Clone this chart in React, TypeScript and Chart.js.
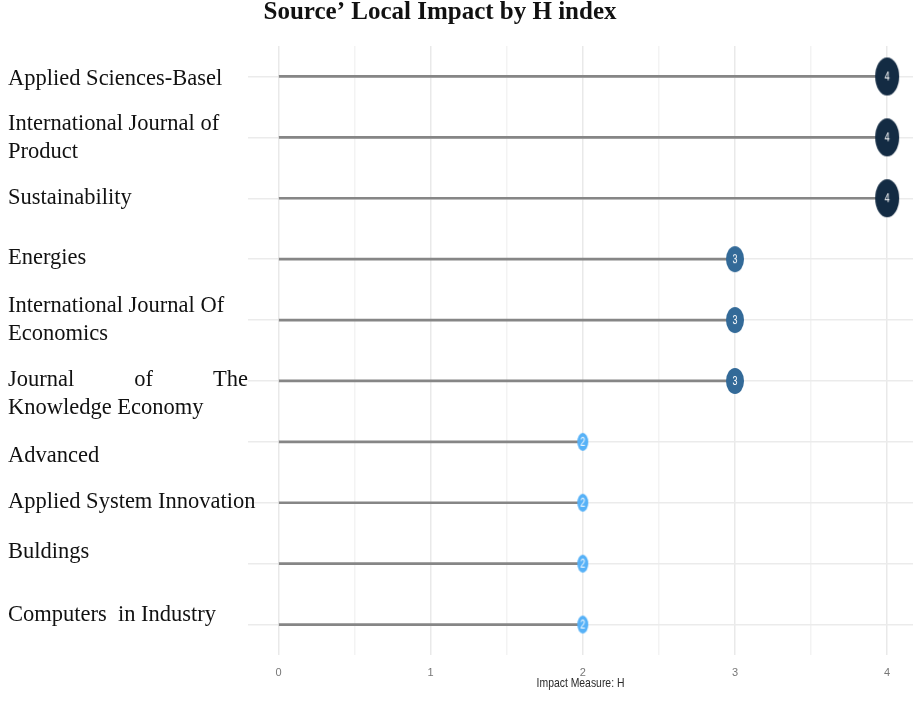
import React, { useEffect, useRef } from 'react';
import { Chart, registerables } from 'chart.js';

Chart.register(...registerables);

// ---- data ----
const SOURCES: string[][] = [
  ['Applied Sciences-Basel'],
  ['International Journal of', 'Product'],
  ['Sustainability'],
  ['Energies'],
  ['International Journal Of', 'Economics'],
  ['Journal of The', 'Knowledge Economy'],
  ['Advanced'],
  ['Applied System Innovation'],
  ['Buldings'],
  ['Computers  in Industry'],
];
const H_INDEX = [4, 4, 4, 3, 3, 3, 2, 2, 2, 2];
const X_TICKS = [0, 1, 2, 3, 4];
const TITLE = 'Source\u2019 Local Impact by H index';
const X_TITLE = 'Impact Measure: H';

// ---- styles ----
const W = 913;
const H = 701;
const DOT_COLOR: Record<number, string> = { 2: '#56B1F7', 3: '#336A98', 4: '#132B43' };
const DOT_RX: Record<number, number> = { 2: 5.5, 3: 9, 4: 12 };
const DOT_RY: Record<number, number> = { 2: 9, 3: 13, 4: 19 };
const LABEL_DY = [3, 1, 0, -1, 0, 13, 14, -1, -12, -9];
const LABEL_LINE_H = 28;
const LABEL_FONT = '22.5px "Liberation Serif"';
const LABEL_LEFT = 8;
const LABEL_WIDTH = 240;
const JUSTIFIED = new Set(['Journal of The']);

function makeDot(v: number): HTMLCanvasElement {
  const ry = DOT_RY[v] ?? 10;
  const rx = DOT_RX[v] ?? 7;
  const c = document.createElement('canvas');
  c.width = Math.ceil(rx * 2) + 2;
  c.height = Math.ceil(ry * 2) + 2;
  const ctx = c.getContext('2d')!;
  ctx.fillStyle = DOT_COLOR[v] ?? '#336A98';
  ctx.beginPath();
  ctx.ellipse(c.width / 2, c.height / 2, rx, ry, 0, 0, Math.PI * 2);
  ctx.fill();
  ctx.save();
  ctx.translate(c.width / 2, c.height / 2);
  ctx.scale(1, 1.35);
  ctx.fillStyle = '#ffffff';
  ctx.font = '9px "Liberation Sans"';
  ctx.textAlign = 'center';
  ctx.textBaseline = 'middle';
  ctx.fillText(String(v), 0, 0.5);
  ctx.restore();
  return c;
}

const textPlugin = {
  id: 'customText',
  afterDraw(chart: any) {
    const ctx = chart.ctx;
    const yScale = chart.scales.y;
    const area = chart.chartArea;
    ctx.save();
    // chart title
    ctx.font = 'bold 25px "Liberation Serif"';
    ctx.fillStyle = '#111';
    ctx.textAlign = 'center';
    ctx.textBaseline = 'middle';
    ctx.fillText(TITLE, 440, 13);

    // x axis title (condensed sans)
    ctx.save();
    ctx.translate((area.left + area.right) / 2, 683);
    ctx.scale(0.8, 1);
    ctx.font = '13px "Liberation Sans"';
    ctx.fillStyle = '#2a2a2a';
    ctx.fillText(X_TITLE, 0, 0);
    ctx.restore();

    // category labels
    ctx.font = LABEL_FONT;
    ctx.fillStyle = '#111';
    ctx.textBaseline = 'middle';
    ctx.textAlign = 'left';
    SOURCES.forEach((lines, i) => {
      const cy = yScale.getPixelForTick(i) + (LABEL_DY[i] ?? 0);
      const y0 = cy - ((lines.length - 1) * LABEL_LINE_H) / 2;
      lines.forEach((line, k) => {
        const y = y0 + k * LABEL_LINE_H;
        if (JUSTIFIED.has(line)) {
          const words = line.split(' ');
          const widths = words.map((w) => ctx.measureText(w).width);
          const total = widths.reduce((a, b) => a + b, 0);
          const gap = (LABEL_WIDTH - total) / (words.length - 1);
          let x = LABEL_LEFT;
          words.forEach((w, j) => {
            ctx.fillText(w, x, y);
            x += widths[j] + gap;
          });
        } else {
          ctx.fillText(line, LABEL_LEFT, y);
        }
      });
    });
    ctx.restore();
  },
};

export default function App() {
  const ref = useRef<HTMLCanvasElement | null>(null);

  useEffect(() => {
    if (!ref.current) return;
    const dots = H_INDEX.map((v) => makeDot(v));
    const chart = new Chart(ref.current, {
      type: 'bar',
      data: {
        labels: SOURCES.map((l) => l.join(' ')),
        datasets: [
          {
            type: 'bar',
            indexAxis: 'y',
            data: H_INDEX,
            backgroundColor: '#868686',
            barThickness: 2,
            order: 2,
          } as any,
          {
            type: 'line',
            indexAxis: 'y',
            data: H_INDEX,
            showLine: false,
            pointStyle: dots as any,
            pointRadius: 10,
            pointBorderWidth: 0,
            clip: false,
            order: 1,
          } as any,
        ],
      },
      options: {
        indexAxis: 'y',
        animation: false,
        responsive: false,
        maintainAspectRatio: false,
        devicePixelRatio: 1,
        layout: { autoPadding: false, padding: { left: 8, top: 46, right: 0, bottom: 0 } },
        plugins: {
          legend: { display: false },
          tooltip: { enabled: false },
          title: { display: false },
        },
        scales: {
          x: {
            type: 'linear',
            min: -0.2,
            max: 4.17,
            border: { display: false },
            grid: {
              drawTicks: false,
              color: (c: any) =>
                X_TICKS.includes(c.tick?.value) ? '#e9e9e9' : '#f3f3f3',
              lineWidth: 1.5,
            },
            ticks: {
              stepSize: 0.5,
              includeBounds: false,
              padding: 11,
              color: '#777',
              font: { family: '"Liberation Sans"', size: 11 },
              callback: (v: any) => (X_TICKS.includes(v) ? String(v) : ''),
            },
            title: { display: false },
            afterFit: (scale: any) => {
              scale.height = 46;
              scale.paddingLeft = 0;
              scale.paddingRight = 0;
            },
          },
          y: {
            type: 'category',
            border: { display: false },
            grid: {
              offset: false,
              drawTicks: false,
              color: '#ebebeb',
              lineWidth: 1.5,
            },
            ticks: { display: false },
            afterFit: (scale: any) => {
              scale.width = 240;
            },
          },
        },
      } as any,
      plugins: [textPlugin],
    });
    return () => chart.destroy();
  }, []);

  return (
    <div style={{ position: 'fixed', left: 0, top: 0, width: W, height: H, background: '#fff' }}>
      <canvas ref={ref} width={W} height={H} style={{ display: 'block', width: W, height: H }} />
    </div>
  );
}
